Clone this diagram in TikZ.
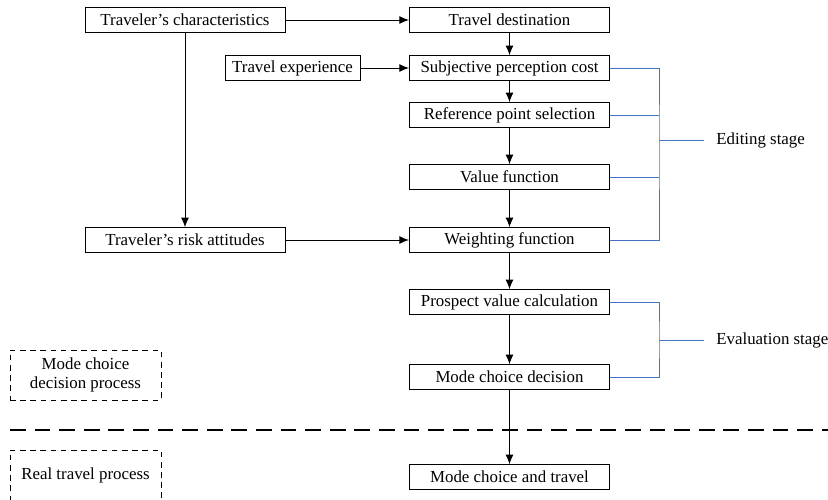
\documentclass[tikz,border=0pt]{standalone}
\usepackage{fontspec}
\setmainfont{Liberation Serif}
\usepackage{tikz}
\usepackage{tkz-euclide}
\usetikzlibrary{arrows.meta}
\definecolor{stageblue}{RGB}{68,114,196}

\begin{document}
\begin{tikzpicture}[x=0.02cm, y=-0.02cm,
  font=\fontsize{9.6}{10.5}\selectfont,
  caixa/.style={draw, line width=0.55pt, minimum width=4cm, minimum height=0.49cm, inner sep=1pt},
  caixatrac/.style={draw, dashed, dash pattern=on 3.2pt off 2.6pt, line width=0.55pt, minimum width=3.02cm, minimum height=1cm, align=center, inner sep=1pt},
  seta/.style={-{Latex[length=5.5pt,width=4.5pt]}, line width=0.55pt},
  chave/.style={stageblue, line width=0.55pt}]

\useasboundingbox (0,0) rectangle (828,500);

%Pontos de referencia para os centros das caixas (x/y/NomedoPonto)
\tkzDefPoints{
185/20/TC,
509.5/20/TD,
292.5/68/TE,
509.5/68/SP,
509.5/115/RP,
509.5/177/VF,
509.5/240/WF,
185/240/RA,
509.5/302/PV,
509.5/377/MD,
509.5/477/MT,
85.5/375/DP,
85.5/475/RT,
659/140/EB,
659/340/VB}

%Caixas do processo de decisao
%---------------------------------------------------
\node[caixa] (tc) at (TC) {Traveler’s characteristics};
\node[caixa] (td) at (TD) {Travel destination};
\node[caixa, minimum width=2.7cm] (te) at (TE) {Travel experience};
\node[caixa] (sp) at (SP) {Subjective perception cost};
\node[caixa] (rp) at (RP) {Reference point selection};
\node[caixa] (vf) at (VF) {Value function};
\node[caixa] (wf) at (WF) {Weighting function};
\node[caixa] (ra) at (RA) {Traveler’s risk attitudes};
\node[caixa] (pv) at (PV) {Prospect value calculation};
\node[caixa] (md) at (MD) {Mode choice decision};
\node[caixa] (mt) at (MT) {Mode choice and travel};
%---------------------------------------------------

%Caixas tracejadas a esquerda
%---------------------------------------------------
\node[caixatrac] (dp) at (DP) {Mode choice\\decision process};
\node[caixatrac] (rt) at (RT) {Real travel process};
%---------------------------------------------------

%Linha tracejada que separa os dois processos
\coordinate (L1) at (10,430);
\coordinate (L2) at (828,430);
\draw[dashed, dash pattern=on 9pt off 5pt, line width=0.9pt] (L1) -- (L2);

%Setas entre as caixas
%---------------------------------------------------
\draw[seta] (tc) -- (td);
\draw[seta] (te) -- (sp);
\draw[seta] (ra) -- (wf);
\draw[seta] (tc) -- (ra);
\draw[seta] (td) -- (sp);
\draw[seta] (sp) -- (rp);
\draw[seta] (rp) -- (vf);
\draw[seta] (vf) -- (wf);
\draw[seta] (wf) -- (pv);
\draw[seta] (pv) -- (md);
\draw[seta] (md) -- (mt);
%---------------------------------------------------

%Chave azul da etapa de edicao
%---------------------------------------------------
\draw[chave] (sp.east) -| (EB) |- (wf.east);
\draw[chave] (rp.east) -- (rp.east -| EB);
\draw[chave] (vf.east) -- (vf.east -| EB);
\node[anchor=west, inner sep=0pt] (es) at (716,140) {Editing stage};
\draw[chave] (EB) -- ([xshift=-7pt]es.west);
%---------------------------------------------------

%Chave azul da etapa de avaliacao
%---------------------------------------------------
\draw[chave] (pv.east) -| (VB) |- (md.east);
\node[anchor=west, inner sep=0pt] (vs) at (716,340) {Evaluation stage};
\draw[chave] (VB) -- ([xshift=-7pt]vs.west);
%---------------------------------------------------

\end{tikzpicture}
\end{document}
